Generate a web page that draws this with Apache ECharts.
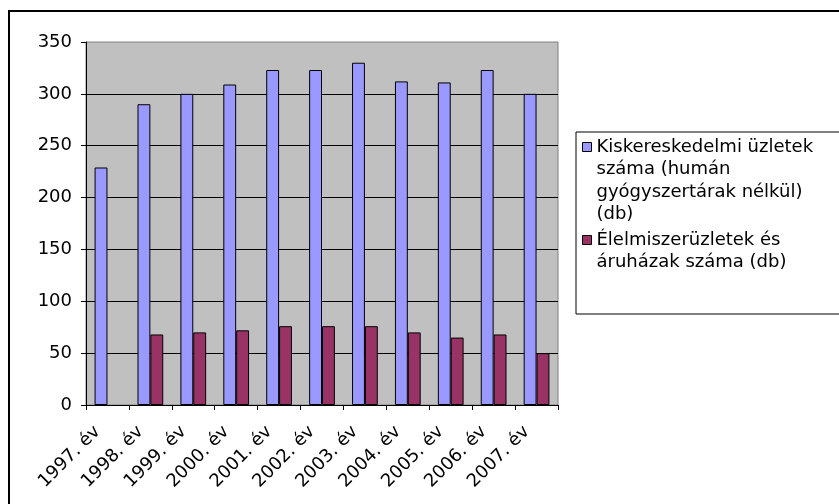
<!DOCTYPE html>
<html><head><meta charset="utf-8">
<script src="https://cdn.jsdelivr.net/npm/echarts@6/dist/echarts.min.js"></script>
<style>html,body{margin:0;padding:0;background:#fff}#c{width:839px;height:504px}</style>
</head><body><div id="c"></div>
<script>
const categories = ['1997. év','1998. év','1999. év','2000. év','2001. év','2002. év','2003. év','2004. év','2005. év','2006. év','2007. év'];
const retailShops = [229, 290, 300, 309, 323, 323, 330, 312, 311, 323, 300];
const foodShops = [null, 68, 70, 72, 76, 76, 76, 70, 65, 68, 50];
const seriesNames = ['Kiskereskedelmi üzletek száma (humán gyógyszertárak nélkül) (db)', 'Élelmiszerüzletek és áruházak száma (db)'];
const legendLines = [
  ['Kiskereskedelmi üzletek', 'száma (humán', 'gyógyszertárak nélkül)', '(db)'],
  ['Élelmiszerüzletek és', 'áruházak száma (db)']
];
const yMin = 0, yMax = 350, yStep = 50;

const FONT = 'DejaVu Sans';
const LH = 22.5;
const chart = echarts.init(document.getElementById('c'), null, {renderer: 'canvas'});

// legend item whose icon sits beside the first text line (blank lines balance the block)
function legendFor(i, iconCenterY) {
  const n = legendLines[i].length;
  const total = 2 * n - 1;
  return {
    show: true, orient: 'vertical', left: 582, top: iconCenterY - total * LH / 2, padding: 0,
    data: [seriesNames[i]], selectedMode: false,
    icon: 'rect', itemWidth: 9, itemHeight: 9,
    itemStyle: {borderColor: '#000', borderWidth: 1},
    formatter: () => '\n'.repeat(n - 1) + legendLines[i].join('\n'),
    textStyle: {fontFamily: FONT, fontSize: 18, color: '#000', lineHeight: LH}
  };
}

chart.setOption({
  animation: false,
  graphic: [
    {type: 'rect', z: -10, shape: {x: 9, y: 11, width: 840, height: 500}, style: {fill: '#fff', stroke: '#000', lineWidth: 2}},
    {type: 'rect', z: -5, shape: {x: 576, y: 132, width: 300, height: 182}, style: {fill: '#fff', stroke: '#000', lineWidth: 1}}
  ],
  legend: [legendFor(0, 147), legendFor(1, 240)],
  grid: {left: 86, right: 281, top: 42, bottom: 99, show: true, backgroundColor: '#C0C0C0', borderColor: '#808080', borderWidth: 1},
  xAxis: {
    type: 'category', data: categories, boundaryGap: true,
    axisLine: {lineStyle: {color: '#000', width: 1}},
    axisTick: {show: true, length: 5, interval: 0, lineStyle: {color: '#000'}},
    axisLabel: {rotate: 45, interval: 0, margin: 14, padding: [0, 14, 0, 0], fontFamily: FONT, fontSize: 18, color: '#000'}
  },
  yAxis: {
    type: 'value', min: yMin, max: yMax, interval: yStep,
    axisLine: {show: true, lineStyle: {color: '#000', width: 1}},
    axisTick: {show: true, length: 5, lineStyle: {color: '#000'}},
    axisLabel: {margin: 14, fontFamily: FONT, fontSize: 18, color: '#000'},
    splitLine: {show: true, showMaxLine: false, lineStyle: {color: '#000', width: 1}}
  },
  series: [
    {name: seriesNames[0], type: 'bar', data: retailShops, barGap: '0%', barCategoryGap: '40%',
     itemStyle: {color: '#9999FF', borderColor: '#000', borderWidth: 1}},
    {name: seriesNames[1], type: 'bar', data: foodShops, barGap: '0%', barCategoryGap: '40%',
     itemStyle: {color: '#993366', borderColor: '#000', borderWidth: 1}}
  ]
});
</script></body></html>
